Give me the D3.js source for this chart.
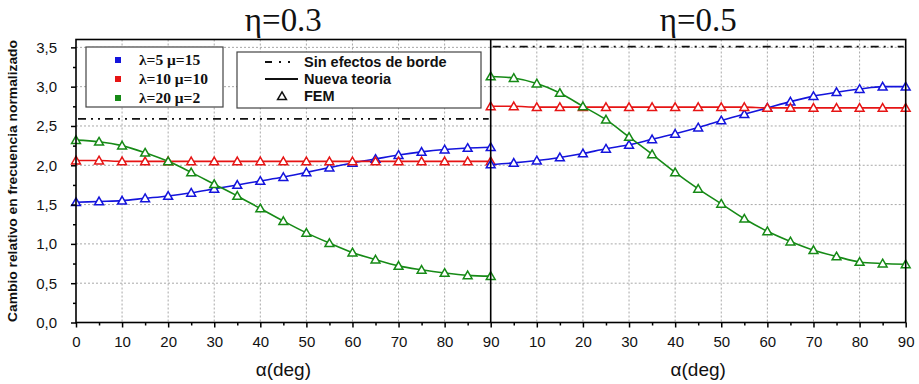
<!DOCTYPE html>
<html>
<head>
<meta charset="utf-8">
<script src="https://cdn.jsdelivr.net/npm/d3@7/dist/d3.min.js"></script>
<style>
  html, body { margin: 0; padding: 0; background: #fff; }
  svg { display: block; }
</style>
</head>
<body>
<svg id="chart"></svg>
<script>
/* ── Data ── */
const ALPHA = [0, 5, 10, 15, 20, 25, 30, 35, 40, 45, 50, 55, 60, 65, 70, 75, 80, 85, 90];

const SERIES_NAMES = ['λ=5 μ=15', 'λ=10 μ=10', 'λ=20 μ=2'];
const SERIES_COLOR = ['#1414dc', '#e61414', '#168a16'];

// η = 0.3
const eta03Blue  = [1.53, 1.54, 1.55, 1.58, 1.61, 1.65, 1.70, 1.75, 1.80, 1.85, 1.91, 1.97, 2.03, 2.08, 2.13, 2.17, 2.20, 2.22, 2.23];
const eta03Red   = [2.06, 2.06, 2.05, 2.05, 2.05, 2.05, 2.05, 2.05, 2.05, 2.05, 2.05, 2.05, 2.05, 2.05, 2.05, 2.05, 2.05, 2.05, 2.05];
const eta03Green = [2.32, 2.30, 2.25, 2.16, 2.05, 1.91, 1.76, 1.61, 1.45, 1.29, 1.14, 1.01, 0.89, 0.80, 0.72, 0.67, 0.63, 0.60, 0.59];
const eta03NoEdge = 2.59;

// η = 0.5
const eta05Blue  = [2.01, 2.03, 2.06, 2.10, 2.15, 2.21, 2.26, 2.33, 2.40, 2.48, 2.57, 2.65, 2.73, 2.81, 2.88, 2.93, 2.97, 3.00, 3.00];
const eta05Red   = [2.75, 2.75, 2.74, 2.74, 2.74, 2.74, 2.74, 2.74, 2.74, 2.74, 2.74, 2.74, 2.73, 2.73, 2.73, 2.73, 2.73, 2.73, 2.73];
const eta05Green = [3.13, 3.11, 3.04, 2.92, 2.75, 2.58, 2.36, 2.14, 1.91, 1.70, 1.51, 1.32, 1.16, 1.03, 0.92, 0.84, 0.77, 0.75, 0.74];
const eta05NoEdge = 3.51;

const PANEL_TITLES = ['η=0.3', 'η=0.5'];
const X_MAJOR = [0, 10, 20, 30, 40, 50, 60, 70, 80, 90];
const X_MINOR = [5, 15, 25, 35, 45, 55, 65, 75, 85];
const Y_MAJOR = [0, 0.5, 1, 1.5, 2, 2.5, 3, 3.5];
const Y_MINOR = [0.25, 0.75, 1.25, 1.75, 2.25, 2.75, 3.25];

const LEGEND_STYLE = ['Sin efectos de borde', 'Nueva teoria', 'FEM'];
const Y_LABEL = 'Cambio relativo en frecuencia normalizado';
const X_LABEL = 'α(deg)';

const SANS  = '"Liberation Sans", Arial, sans-serif';
const SERIF = '"Liberation Serif", "Times New Roman", serif';

/* ── Layout ── */
const W = 919, H = 384;
const TOP = 39.5, BOTTOM = 322.5;
const X0 = 76, XMID = 490.7, X1 = 905.7;

const svg = d3.select('#chart').attr('width', W).attr('height', H);

const yScale = d3.scaleLinear().domain([0, 3.6]).range([BOTTOM, TOP]);

const panels = [
  { x: d3.scaleLinear().domain([0, 90]).range([X0, XMID]),
    series: [eta03Blue, eta03Red, eta03Green], noEdge: eta03NoEdge,
    ticks: X_MAJOR, title: PANEL_TITLES[0] },
  { x: d3.scaleLinear().domain([0, 90]).range([XMID, X1]),
    series: [eta05Blue, eta05Red, eta05Green], noEdge: eta05NoEdge,
    ticks: X_MAJOR.slice(1), title: PANEL_TITLES[1] },
];

/* ── Grid ── */
panels.forEach(p => {
  svg.append('g').selectAll('line')
    .data(X_MAJOR.slice(1, -1))
    .join('line')
    .attr('x1', d => p.x(d)).attr('x2', d => p.x(d))
    .attr('y1', TOP).attr('y2', BOTTOM)
    .attr('stroke', '#a8a8a8').attr('stroke-width', 1)
    .attr('stroke-dasharray', '2,2');
  svg.append('g').selectAll('line')
    .data(Y_MAJOR.slice(1))
    .join('line')
    .attr('x1', p.x(0)).attr('x2', p.x(90))
    .attr('y1', d => yScale(d)).attr('y2', d => yScale(d))
    .attr('stroke', '#a8a8a8').attr('stroke-width', 1)
    .attr('stroke-dasharray', '2,2');
});

/* ── Sin efectos de borde (dash-dot-dot) ── */
const DASHDOT = '8,5,2,5,2,5';
panels.forEach(p => {
  svg.append('line')
    .attr('x1', p.x(0) + 2).attr('x2', p.x(90) - 2)
    .attr('y1', yScale(p.noEdge)).attr('y2', yScale(p.noEdge))
    .attr('stroke', '#111').attr('stroke-width', 1.8)
    .attr('stroke-dasharray', DASHDOT);
});

/* ── Curves + FEM triangles ── */
const tri = d3.symbol().type(d3.symbolTriangle).size(34);
panels.forEach(p => {
  p.series.forEach((vals, si) => {
    const pts = ALPHA.map((a, i) => [a, vals[i]]);
    const line = d3.line()
      .x(d => p.x(d[0]))
      .y(d => yScale(d[1]))
      .curve(d3.curveMonotoneX);
    svg.append('path')
      .attr('d', line(pts))
      .attr('fill', 'none')
      .attr('stroke', SERIES_COLOR[si])
      .attr('stroke-width', 1.6);
  });
  p.series.forEach((vals, si) => {
    svg.append('g').selectAll('path')
      .data(ALPHA.map((a, i) => [a, vals[i]]))
      .join('path')
      .attr('d', tri)
      .attr('transform', d => `translate(${p.x(d[0])},${yScale(d[1]) + 0.8})`)
      .attr('fill', '#fff')
      .attr('stroke', SERIES_COLOR[si])
      .attr('stroke-width', 1.5);
  });
});

/* ── Frame ── */
svg.append('rect')
  .attr('x', X0).attr('y', TOP)
  .attr('width', X1 - X0).attr('height', BOTTOM - TOP)
  .attr('fill', 'none').attr('stroke', '#000').attr('stroke-width', 1.6);
svg.append('line')
  .attr('x1', XMID).attr('x2', XMID).attr('y1', TOP).attr('y2', BOTTOM)
  .attr('stroke', '#000').attr('stroke-width', 1.6);

/* ── Axes ── */
const styleAxis = ax => {
  ax.select('.domain').remove();
  ax.selectAll('.tick line').attr('stroke', '#000').attr('stroke-width', 1.5);
  ax.selectAll('.tick text')
    .attr('fill', '#111')
    .attr('font-size', 15)
    .attr('font-family', SANS);
};

svg.append('g')
  .attr('transform', `translate(${X0},0)`)
  .call(d3.axisLeft(yScale).tickValues(Y_MAJOR).tickSize(5).tickPadding(14)
    .tickFormat(d => d3.format('.1f')(d).replace('.', ',')))
  .call(styleAxis);
svg.append('g')
  .attr('transform', `translate(${X0},0)`)
  .call(d3.axisLeft(yScale).tickValues(Y_MINOR).tickSize(3).tickFormat(''))
  .call(styleAxis);

panels.forEach(p => {
  svg.append('g')
    .attr('transform', `translate(0,${BOTTOM})`)
    .call(d3.axisBottom(p.x).tickValues(p.ticks).tickSize(5).tickPadding(9))
    .call(styleAxis);
  svg.append('g')
    .attr('transform', `translate(0,${BOTTOM})`)
    .call(d3.axisBottom(p.x).tickValues(X_MINOR).tickSize(3).tickFormat(''))
    .call(styleAxis);

  // x label
  svg.append('text')
    .attr('x', p.x(45)).attr('y', 376)
    .attr('text-anchor', 'middle')
    .attr('font-family', SANS)
    .attr('font-size', 19)
    .attr('fill', '#111')
    .text(X_LABEL);

  // panel title
  svg.append('text')
    .attr('x', p.x(45)).attr('y', 31)
    .attr('text-anchor', 'middle')
    .attr('font-family', SERIF)
    .attr('font-size', 34)
    .attr('textLength', 77)
    .attr('lengthAdjust', 'spacingAndGlyphs')
    .attr('fill', '#111')
    .text(p.title);
});

/* ── Y label ── */
svg.append('text')
  .attr('transform', `translate(17,${(TOP + BOTTOM) / 2}) rotate(-90)`)
  .attr('text-anchor', 'middle')
  .attr('font-family', SANS)
  .attr('font-size', 12)
  .attr('font-weight', 'bold')
  .attr('textLength', 282)
  .attr('lengthAdjust', 'spacingAndGlyphs')
  .attr('fill', '#111')
  .text(Y_LABEL);

/* ── Legend 1: series ── */
const lg1 = svg.append('g').attr('transform', 'translate(86,47)');
lg1.append('rect').attr('width', 137).attr('height', 60)
  .attr('fill', '#fff').attr('stroke', '#444').attr('stroke-width', 1.2);
SERIES_NAMES.forEach((name, i) => {
  const cy = 13 + i * 19;
  lg1.append('rect')
    .attr('x', 29).attr('y', cy - 3).attr('width', 6).attr('height', 6)
    .attr('fill', SERIES_COLOR[i]);
  lg1.append('text')
    .attr('x', 53).attr('y', cy + 5)
    .attr('font-family', SERIF)
    .attr('font-size', 15.5)
    .attr('font-weight', 'bold')
    .attr('fill', '#111')
    .text(name);
});

/* ── Legend 2: styles ── */
const lg2 = svg.append('g').attr('transform', 'translate(237,52)');
lg2.append('rect').attr('width', 244).attr('height', 56)
  .attr('fill', '#fff').attr('stroke', '#444').attr('stroke-width', 1.2);
LEGEND_STYLE.forEach((name, i) => {
  const cy = 10 + i * 17;
  if (i === 0) {
    lg2.append('line').attr('x1', 28).attr('x2', 61).attr('y1', cy).attr('y2', cy)
      .attr('stroke', '#111').attr('stroke-width', 1.8)
      .attr('stroke-dasharray', '7,7,2,7,2,8');
  } else if (i === 1) {
    lg2.append('line').attr('x1', 28).attr('x2', 61).attr('y1', cy).attr('y2', cy)
      .attr('stroke', '#111').attr('stroke-width', 1.8);
  } else {
    lg2.append('path')
      .attr('d', tri)
      .attr('transform', `translate(45,${cy + 1})`)
      .attr('fill', '#fff').attr('stroke', '#111').attr('stroke-width', 1.5);
  }
  lg2.append('text')
    .attr('x', 67).attr('y', cy + 5)
    .attr('font-family', SANS)
    .attr('font-size', 14.5)
    .attr('font-weight', 'bold')
    .attr('fill', '#111')
    .text(name);
});
</script>
</body>
</html>
